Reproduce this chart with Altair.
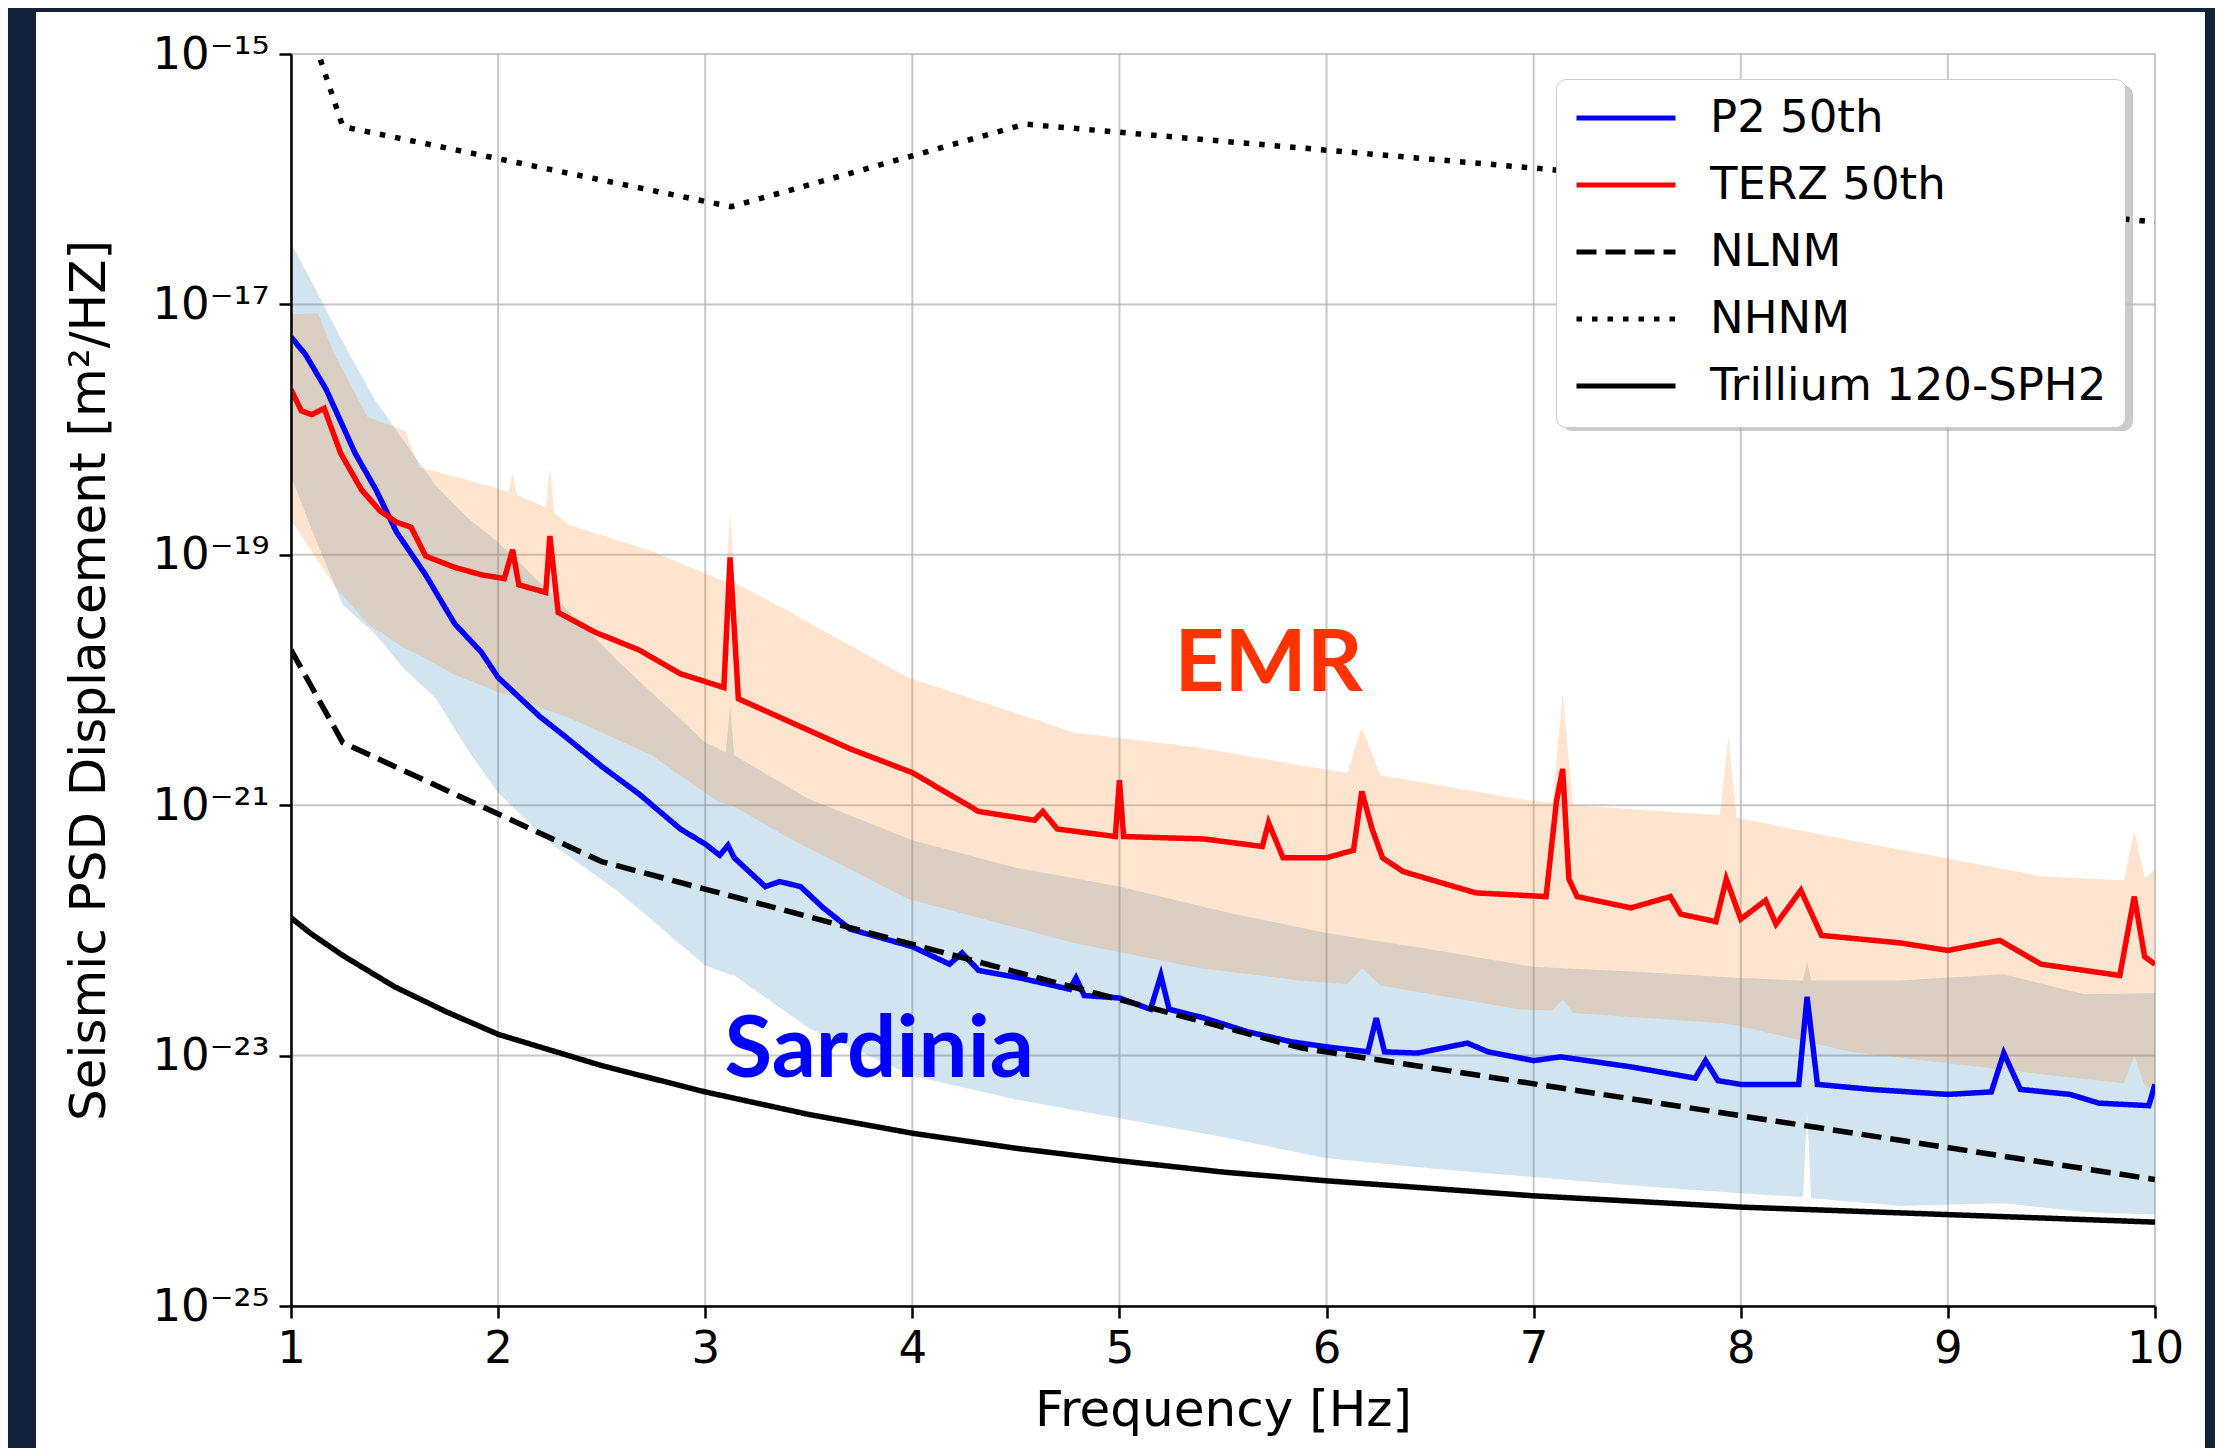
import altair as alt
import pandas as pd

# ---------------- data (log10 of PSD values) ----------------
series_names = ["P2 50th", "TERZ 50th", "NLNM", "NHNM", "Trillium 120-SPH2"]
series_colors = ["#0000ff", "#ff0000", "black", "black", "black"]
series_dash = [[1, 0], [1, 0], [20, 9], [5.5, 10], [1, 0]]

p2_f = [1.00, 1.07, 1.17, 1.31, 1.41, 1.51, 1.65, 1.79, 1.92, 2.00, 2.20, 2.33, 2.50, 2.68, 2.88,
        3.00, 3.07, 3.11, 3.14, 3.29, 3.36, 3.46, 3.57, 3.70, 4.00, 4.18, 4.24, 4.32, 4.52, 4.76,
        4.79, 4.83, 5.00, 5.15, 5.20, 5.24, 5.41, 5.62, 5.83, 6.00, 6.20, 6.24, 6.28, 6.44, 6.68,
        6.78, 7.00, 7.13, 7.47, 7.78, 7.83, 7.89, 8.00, 8.28, 8.32, 8.37, 8.63, 9.00, 9.21, 9.27,
        9.35, 9.59, 9.73, 9.97, 10.00]
p2_log = [-17.26, -17.40, -17.68, -18.19, -18.48, -18.82, -19.16, -19.55, -19.78, -19.98, -20.29,
          -20.46, -20.69, -20.91, -21.19, -21.31, -21.40, -21.32, -21.42, -21.65, -21.61, -21.65,
          -21.82, -21.99, -22.13, -22.27, -22.18, -22.32, -22.38, -22.47, -22.38, -22.52, -22.54,
          -22.63, -22.36, -22.63, -22.70, -22.81, -22.89, -22.93, -22.97, -22.70, -22.97, -22.98,
          -22.90, -22.97, -23.04, -23.01, -23.09, -23.18, -23.04, -23.20, -23.23, -23.23, -22.53,
          -23.23, -23.27, -23.31, -23.29, -22.98, -23.27, -23.31, -23.38, -23.40, -23.23]

terz_f = [1.00, 1.05, 1.10, 1.16, 1.24, 1.34, 1.43, 1.51, 1.58, 1.65, 1.79, 1.92, 2.03, 2.07, 2.10,
          2.23, 2.25, 2.29, 2.47, 2.68, 2.88, 3.09, 3.12, 3.16, 3.43, 3.70, 4.00, 4.32, 4.59, 4.63,
          4.70, 4.98, 5.00, 5.02, 5.41, 5.69, 5.72, 5.79, 6.00, 6.13, 6.17, 6.22, 6.27, 6.37, 6.72,
          7.06, 7.11, 7.14, 7.17, 7.21, 7.47, 7.66, 7.71, 7.88, 7.93, 8.00, 8.12, 8.17, 8.29, 8.39,
          8.77, 9.00, 9.25, 9.45, 9.83, 9.90, 9.95, 10.00]
terz_log = [-17.68, -17.85, -17.88, -17.83, -18.19, -18.48, -18.65, -18.74, -18.78, -19.01, -19.10,
            -19.16, -19.19, -18.96, -19.24, -19.30, -18.85, -19.46, -19.62, -19.76, -19.95, -20.06,
            -19.02, -20.15, -20.35, -20.55, -20.74, -21.05, -21.12, -21.05, -21.19, -21.25, -20.80,
            -21.25, -21.27, -21.33, -21.14, -21.42, -21.42, -21.36, -20.89, -21.19, -21.42, -21.53,
            -21.70, -21.73, -20.97, -20.71, -21.59, -21.73, -21.82, -21.73, -21.87, -21.93, -21.59,
            -21.91, -21.76, -21.95, -21.68, -22.04, -22.10, -22.16, -22.08, -22.27, -22.36, -21.73,
            -22.21, -22.27]

p2band_f = [1.00, 1.10, 1.25, 1.40, 1.54, 1.70, 1.85, 2.00, 2.25, 2.58, 3.00, 3.10, 3.12, 3.14,
            3.50, 4.00, 4.50, 5.00, 5.50, 6.00, 6.50, 7.00, 7.50, 8.00, 8.30, 8.32, 8.34, 8.77,
            9.27, 9.66, 10.00]
p2band_up = [-16.51, -16.82, -17.30, -17.75, -18.08, -18.45, -18.70, -18.90, -19.30, -19.85, -20.50,
             -20.58, -20.20, -20.60, -20.95, -21.28, -21.50, -21.65, -21.85, -22.02, -22.15, -22.29,
             -22.33, -22.38, -22.40, -22.25, -22.40, -22.40, -22.35, -22.51, -22.50]
p2band_lo = [-18.37, -18.80, -19.40, -19.62, -19.90, -20.15, -20.55, -20.90, -21.30, -21.69, -22.28,
             -22.34, -22.35, -22.36, -22.78, -23.16, -23.35, -23.50, -23.65, -23.82, -23.90, -23.97,
             -24.04, -24.10, -24.13, -23.45, -24.14, -24.20, -24.18, -24.25, -24.27]

terzband_f = [1.00, 1.13, 1.21, 1.37, 1.55, 1.62, 1.78, 2.02, 2.05, 2.07, 2.09, 2.23, 2.25, 2.27,
              2.34, 2.74, 3.06, 3.10, 3.12, 3.14, 3.39, 3.98, 4.78, 5.38, 5.87, 6.10, 6.17, 6.26,
              6.93, 7.09, 7.14, 7.19, 7.90, 7.94, 7.98, 8.53, 9.46, 9.85, 9.90, 9.95, 10.00]
terzband_up = [-17.08, -17.07, -17.40, -17.90, -18.01, -18.30, -18.37, -18.48, -18.50, -18.35, -18.52,
               -18.62, -18.30, -18.66, -18.76, -18.97, -19.19, -19.21, -18.65, -19.22, -19.44, -19.98,
               -20.42, -20.54, -20.68, -20.74, -20.38, -20.76, -20.95, -20.98, -20.11, -21.00, -21.08,
               -20.45, -21.10, -21.28, -21.57, -21.60, -21.20, -21.58, -21.52]
terzband_lo = [-18.72, -19.05, -19.25, -19.55, -19.75, -19.80, -19.95, -20.11, -20.12, -20.13, -20.14,
               -20.24, -20.25, -20.26, -20.30, -20.60, -20.97, -20.99, -21.00, -21.01, -21.25, -21.75,
               -22.10, -22.30, -22.40, -22.43, -22.30, -22.44, -22.63, -22.64, -22.55, -22.66, -22.74,
               -22.75, -22.76, -22.97, -23.15, -23.22, -23.00, -23.24, -23.27]

nlnm_f = [1.00, 1.25, 2.50, 5.88, 10.00]
nlnm_log = [-19.76, -20.50, -21.45, -22.94, -23.99]

nhnm_f = [1.00, 1.25, 3.125, 4.545, 10.00]
nhnm_log = [-14.34, -15.58, -16.22, -15.56, -16.34]

tril_f = [1.0, 1.1, 1.25, 1.5, 1.75, 2.0, 2.5, 3.0, 3.5, 4.0, 4.5, 5.0, 5.5, 6.0, 7.0, 8.0, 9.0, 10.0]
tril_log = [-21.90, -22.03, -22.20, -22.45, -22.65, -22.83, -23.08, -23.29, -23.47, -23.62, -23.74,
            -23.84, -23.93, -24.00, -24.12, -24.21, -24.27, -24.33]

x_ticks = [1, 2, 3, 4, 5, 6, 7, 8, 9, 10]
y_tick_exp = [-15, -17, -19, -21, -23, -25]
sup = {-15: "⁻¹⁵", -17: "⁻¹⁷", -19: "⁻¹⁹", -21: "⁻²¹", -23: "⁻²³", -25: "⁻²⁵"}

ann_text = ["EMR", "Sardinia"]
ann_f = [5.72, 3.84]
ann_log = [-20.09, -23.17]
ann_color = ["#ff3300", "#0000ff"]


def line_df(f, lg, name):
    return pd.DataFrame({"f": f, "psd": [10.0 ** v for v in lg], "series": name})


def band_df(f, up, lo):
    return pd.DataFrame({"f": f, "up": [10.0 ** v for v in up], "lo": [10.0 ** v for v in lo]})


# ---------------- scales & axes ----------------
FONT = "DejaVu Sans"
xscale = alt.Scale(domain=[1, 10], nice=False, zero=False)
yscale = alt.Scale(type="log", domain=[1e-25, 1e-15], nice=False)
y_ticks = [10.0 ** e for e in y_tick_exp]
label_expr = " : ".join(
    [f"datum.value == {10.0 ** e!r} ? '10{sup[e]}'" for e in y_tick_exp]) + " : ''"

xaxis = alt.Axis(values=x_ticks, format="d", title="Frequency [Hz]", grid=False,
                 labelFlush=False, zindex=1, labelPadding=8, titlePadding=14)
yaxis = alt.Axis(values=y_ticks, labelExpr=label_expr, title="Seismic PSD Displacement [m²/HZ]",
                 grid=False, labelFlush=False, zindex=1, labelPadding=10, titlePadding=37)

legend = alt.Legend(title=None, orient="none", legendX=1265, legendY=25, padding=18,
                    fillColor="white", strokeColor="#cccccc", cornerRadius=10,
                    symbolType="stroke", symbolSize=9801, symbolStrokeWidth=5,
                    labelFont=FONT, labelFontSize=45, labelOffset=32, labelLimit=800,
                    clipHeight=42, rowPadding=22)

color_enc = alt.Color("series:N", scale=alt.Scale(domain=series_names, range=series_colors),
                      legend=legend)
dash_enc = alt.StrokeDash("series:N", scale=alt.Scale(domain=series_names, range=series_dash),
                          legend=legend)

one = pd.DataFrame({"k": [0]})

# white panel (the figure's white page on the dark backdrop)
panel = alt.Chart(one).mark_rect(color="white", clip=False).encode(
    x=alt.value(-255), x2=alt.value(1914), y=alt.value(-42), y2=alt.value(1402))

# legend drop shadow
shadow = alt.Chart(one).mark_rect(color="#a8a8a8", opacity=0.6, cornerRadius=10, clip=False).encode(
    x=alt.value(1271), x2=alt.value(1842), y=alt.value(31), y2=alt.value(377))

grid_x = alt.Chart(pd.DataFrame({"f": x_ticks})).mark_rule(
    color="#b0b0b0", strokeWidth=2, opacity=0.7).encode(x=alt.X("f:Q", scale=xscale, axis=xaxis))
grid_y = alt.Chart(pd.DataFrame({"v": y_ticks})).mark_rule(
    color="#b0b0b0", strokeWidth=2, opacity=0.7).encode(y=alt.Y("v:Q", scale=yscale, axis=yaxis))


def band(df, color):
    return alt.Chart(df).mark_area(color=color, opacity=0.2, clip=True).encode(
        x=alt.X("f:Q", scale=xscale, axis=xaxis),
        y=alt.Y("up:Q", scale=yscale, axis=yaxis),
        y2="lo:Q")


def line(df, width):
    return alt.Chart(df).mark_line(strokeWidth=width, clip=True).encode(
        x=alt.X("f:Q", scale=xscale, axis=xaxis),
        y=alt.Y("psd:Q", scale=yscale, axis=yaxis),
        color=color_enc, strokeDash=dash_enc)


band_p2 = band(band_df(p2band_f, p2band_up, p2band_lo), "#1f77b4")
band_terz = band(band_df(terzband_f, terzband_up, terzband_lo), "#ff7f0e")
l_p2 = line(line_df(p2_f, p2_log, series_names[0]), 5.5)
l_terz = line(line_df(terz_f, terz_log, series_names[1]), 5.5)
l_nlnm = line(line_df(nlnm_f, nlnm_log, series_names[2]), 5.5)
l_nhnm = line(line_df(nhnm_f, nhnm_log, series_names[3]), 5.5)
l_tril = line(line_df(tril_f, tril_log, series_names[4]), 5.5)

ann_df = pd.DataFrame({"f": ann_f, "psd": [10.0 ** v for v in ann_log], "t": ann_text,
                       "c": ann_color})
ann = alt.Chart(ann_df).mark_text(font="Lato", fontWeight="bold", fontSize=87, align="center",
                                  baseline="alphabetic").encode(
    x=alt.X("f:Q", scale=xscale, axis=xaxis),
    y=alt.Y("psd:Q", scale=yscale, axis=yaxis),
    text="t:N", color=alt.Color("c:N", scale=None))

chart = alt.layer(panel, shadow, grid_x, grid_y, band_p2, band_terz, l_p2, l_terz,
                  l_nlnm, l_nhnm, l_tril, ann).properties(
    width=1864, height=1252,
    autosize=alt.AutoSizeParams(type="none"),
    padding={"left": 283, "top": 46, "right": 60, "bottom": 142},
    background="#14213b",
).configure_view(stroke="black", strokeWidth=2.5).configure_axis(
    labelFont=FONT, labelFontSize=45, labelColor="black",
    titleFont=FONT, titleFontSize=50, titleFontWeight="normal", titleColor="black",
    tickColor="black", tickWidth=2.5, tickSize=12, domainColor="black", domainWidth=2.5,
)

chart.save("out.html", embed_options={"renderer": "svg", "actions": False})
